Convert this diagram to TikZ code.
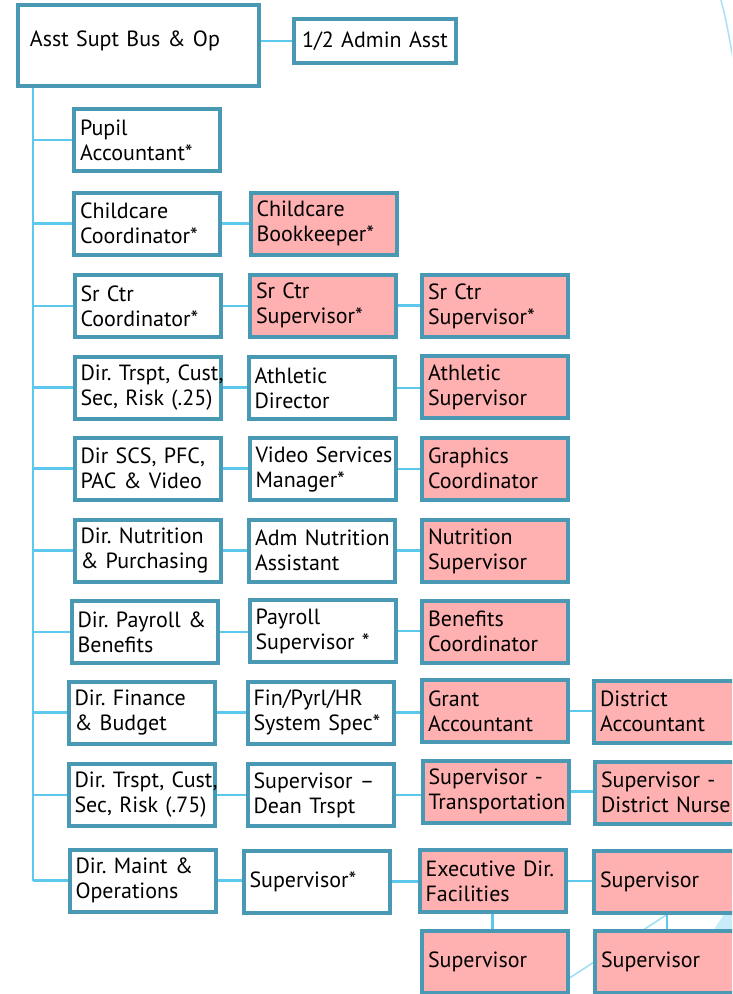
\documentclass[tikz,border=0pt]{standalone}
\usepackage{fontspec}
\setmainfont{PT Sans}
\definecolor{boxline}{HTML}{4A99B4}
\definecolor{linkline}{HTML}{5DC8EE}
\definecolor{pinkfill}{HTML}{FFB0B0}
\definecolor{decoblue}{HTML}{C8ECF8}
\hyphenpenalty=10000
\exhyphenpenalty=10000

\begin{document}
\begin{tikzpicture}[x=1pt, y=-1pt,
    staff/.style={draw=boxline, line width=4pt, fill=white, rectangle, align=left,
      inner xsep=6pt, text width=134pt, minimum width=146pt, minimum height=62pt,
      font=\fontsize{22}{25}\selectfont},
    sub/.style={staff, fill=pinkfill},
    link/.style={draw=linkline, line width=2.5pt}]
  \clip (0,0) rectangle (732,994);

  % background marks
  \draw[decoblue!70!linkline, line width=1.5pt] (721,0) .. controls (726,20) .. (733,58);
  \fill[decoblue] (715,928) -- (733,900) -- (733,994) -- (690,994) -- cycle;
  \draw[decoblue!60!linkline, line width=1.5pt] (545,994) -- (700,893);

  % head
  \node (main) [staff, minimum width=241pt, minimum height=81pt, text width=217pt,
    inner xsep=12pt, text depth=14pt] at (138.5,45.5) {Asst Supt Bus \& Op};
  \node (admin) [staff, minimum width=162pt, minimum height=44pt, text width=150pt,
    align=center] at (375,41) {1/2 Admin Asst};

  % first column
  \node (pupil) [staff] at (147,140) {Pupil\\Accountant*};
  \node (ccoord) [staff] at (147,223.5) {Childcare\\Coordinator*};
  \node (srcoord) [staff] at (147.5,306) {Sr Ctr\\Coordinator*};
  \node (trspta) [staff, inner xsep=3pt] at (147.5,387.5) {Dir.~Trspt,~Cust,\\Sec,~Risk~(.25)};
  \node (scs) [staff] at (147.5,468.5) {Dir~SCS,~PFC,\\PAC~\&~Video};
  \node (nutr) [staff] at (147.5,550.5) {Dir.~Nutrition\\\&~Purchasing};
  \node (payroll) [staff] at (144.5,632) {Dir.~Payroll~\&\\Benefits};
  \node (finance) [staff] at (141.5,712.5) {Dir.~Finance\\\&~Budget};
  \node (trsptb) [staff, inner xsep=3pt] at (141.5,795) {Dir.~Trspt,~Cust,\\Sec,~Risk~(.75)};
  \node (maint) [staff] at (142.5,880.5) {Dir.~Maint~\&\\Operations};

  % second column
  \node (cbook) [sub] at (323.5,223.5) {Childcare\\Bookkeeper*};
  \node (srsup) [sub] at (323,305.5) {Sr Ctr\\Supervisor*};
  \node (athdir) [staff] at (321.5,388) {Athletic\\Director};
  \node (video) [staff, inner xsep=3pt] at (322.5,469) {Video~Services\\Manager*};
  \node (admnutr) [staff, inner xsep=3pt] at (322,550.5) {Adm~Nutrition\\Assistant};
  \node (paysup) [staff] at (322.5,631) {Payroll\\Supervisor~*};
  \node (finspec) [staff] at (320.5,712.5) {Fin/Pyrl/HR\\System~Spec*};
  \node (dean) [staff] at (320.5,795) {Supervisor~–\\Dean~Trspt};
  \node (maintsup) [staff] at (316.5,881.5) {Supervisor*};

  % third column
  \node (srsup2) [sub] at (495,306) {Sr Ctr\\Supervisor*};
  \node (athsup) [sub] at (495,387) {Athletic\\Supervisor};
  \node (graphics) [sub] at (495,468.5) {Graphics\\Coordinator};
  \node (nutrsup) [sub] at (495,551) {Nutrition\\Supervisor};
  \node (benefits) [sub] at (495,631.5) {Benefits\\Coordinator};
  \node (grant) [sub] at (495,711) {Grant\\Accountant};
  \node (transp) [sub, inner xsep=3pt] at (495.5,791.5) {Supervisor~-\\Transportation};
  \node (execdir) [sub, inner xsep=3pt] at (492.5,881) {Executive~Dir.\\Facilities};
  \node (supa) [sub] at (495,961.5) {Supervisor};

  % fourth column
  \node (distacct) [sub] at (667,711.5) {District\\Accountant};
  \node (nurse) [sub] at (668,792.5) {Supervisor~-\\District~Nurse};
  \node (facsup) [sub] at (667,882) {Supervisor};
  \node (supb) [sub] at (668,961.5) {Supervisor};

  % lines
  \coordinate (trunk) at (33,88);
  \draw[link] (main.east |- admin.west) -- (admin.west);
  \draw[link] (trunk) -- (trunk |- maint.west);
  \foreach \n in {pupil, ccoord, srcoord, trspta, scs, nutr, payroll, finance, trsptb, maint}
    \draw[link] (trunk |- \n.west) -- (\n.west);
  \foreach \a/\b in {ccoord/cbook, srcoord/srsup, srsup/srsup2, trspta/athdir, athdir/athsup,
      scs/video, video/graphics, nutr/admnutr, admnutr/nutrsup, payroll/paysup, paysup/benefits,
      finance/finspec, finspec/grant, grant/distacct, trsptb/dean, dean/transp, transp/nurse,
      maint/maintsup, maintsup/execdir, execdir/facsup}
    \draw[link] (\a.east) -- (\a.east -| \b.west);
  \draw[link] (execdir.south) -- (execdir.south |- supa.north);
  \draw[link] (facsup.south) -- (facsup.south |- supb.north);
\end{tikzpicture}
\end{document}
